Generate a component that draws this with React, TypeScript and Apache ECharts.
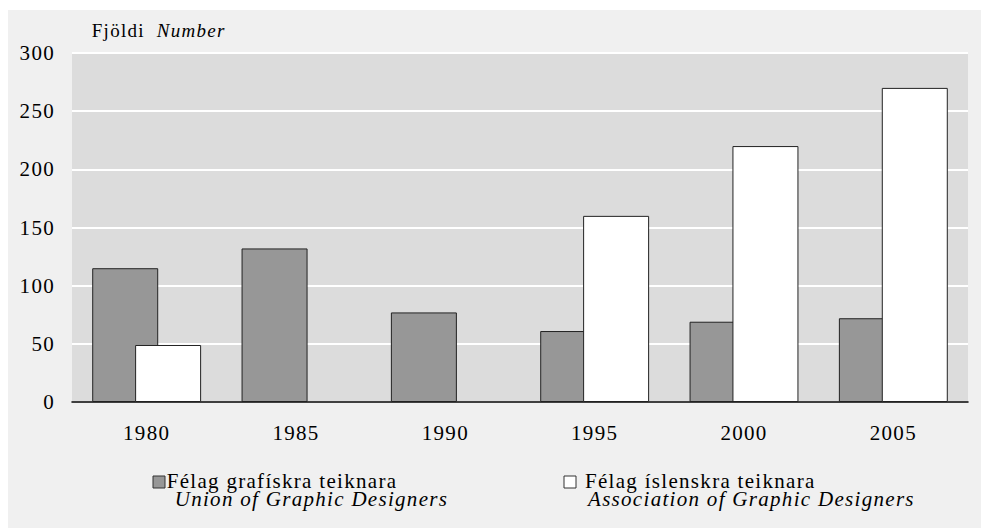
import React, { useEffect, useRef } from 'react';
import * as echarts from 'echarts';

// Data
const years = ['1980', '1985', '1990', '1995', '2000', '2005'];
const unionValues = [115, 132, 77, 61, 69, 72];
const associationValues: (number | null)[] = [49, null, null, 160, 220, 270];
const yMin = 0;
const yMax = 300;
const yInterval = 50;

// Texts
const titleIs = 'Fjöldi';
const titleEn = 'Number';
const legendIs = ['Félag grafískra teiknara', 'Félag íslenskra teiknara'];
const legendEn = ['Union of Graphic Designers', 'Association of Graphic Designers'];

const FONT = 'Liberation Serif';
const GRAY = '#979797';
const WHITE = '#ffffff';

export default function App() {
  const ref = useRef<HTMLDivElement>(null);

  useEffect(() => {
    if (!ref.current) return;
    const chart = echarts.init(ref.current, undefined, { renderer: 'svg' });

    const legendPos = [
      { rx: 145, tx: 158.7, indent: 8, color: GRAY },
      { rx: 556, tx: 577, indent: 3, color: WHITE },
    ];

    const graphic: any[] = [
      {
        type: 'text',
        x: 83.7,
        y: 20.9,
        style: { text: titleIs, fill: '#000', fontSize: 19, fontFamily: FONT, align: 'left', verticalAlign: 'middle' },
      },
      {
        type: 'text',
        x: 148.7,
        y: 20.9,
        style: { text: titleEn, fill: '#000', fontSize: 19, fontStyle: 'italic', fontFamily: FONT, align: 'left', verticalAlign: 'middle' },
      },
    ];
    legendPos.forEach((p, i) => {
      graphic.push({
        type: 'rect',
        shape: { x: p.rx, y: 466, width: 12, height: 12 },
        style: { fill: p.color, stroke: '#333', lineWidth: 1 },
      });
      graphic.push({
        type: 'text',
        x: p.tx,
        y: 461.6,
        style: {
          text: `{a|${legendIs[i]}}\n{b|${legendEn[i]}}`,
          fill: '#000',
          fontFamily: FONT,
          align: 'left',
          verticalAlign: 'top',
          rich: {
            a: { fontSize: 21, fontFamily: FONT, lineHeight: 18, fill: '#000' },
            b: { fontSize: 21, fontFamily: FONT, fontStyle: 'italic', lineHeight: 18, fill: '#000', padding: [0, 0, 0, p.indent] },
          },
        },
      });
    });

    chart.setOption({
      animation: false,
      backgroundColor: '#f0f0f0',
      textStyle: { fontFamily: FONT },
      grid: {
        left: 64,
        right: 13,
        top: 43,
        bottom: 126,
        show: true,
        backgroundColor: '#dcdcdc',
        borderWidth: 0,
        containLabel: false,
      },
      xAxis: {
        type: 'category',
        data: years,
        axisTick: { show: false },
        axisLine: { show: true, lineStyle: { color: '#000', width: 1.5 } },
        axisLabel: { color: '#000', fontSize: 21, fontFamily: FONT, margin: 20 },
      },
      yAxis: {
        type: 'value',
        min: yMin,
        max: yMax,
        interval: yInterval,
        axisLine: { show: false },
        axisTick: { show: false },
        splitLine: { show: true, lineStyle: { color: '#ffffff', width: 2 } },
        axisLabel: { color: '#000', fontSize: 21, fontFamily: FONT, margin: 17 },
      },
      series: [
        {
          name: legendIs[0],
          type: 'bar',
          data: unionValues,
          barWidth: 66,
          barGap: '-35%',
          itemStyle: { color: GRAY, borderColor: '#222', borderWidth: 1 },
        },
        {
          name: legendIs[1],
          type: 'bar',
          data: associationValues,
          barWidth: 66,
          barGap: '-35%',
          itemStyle: { color: WHITE, borderColor: '#222', borderWidth: 1 },
        },
      ],
      graphic,
    });

    return () => chart.dispose();
  }, []);

  return (
    <div
      ref={ref}
      style={{
        position: 'absolute',
        left: 8,
        top: 10,
        width: 973,
        height: 518,
        background: '#f0f0f0',
        letterSpacing: '1.3px',
      }}
    />
  );
}
